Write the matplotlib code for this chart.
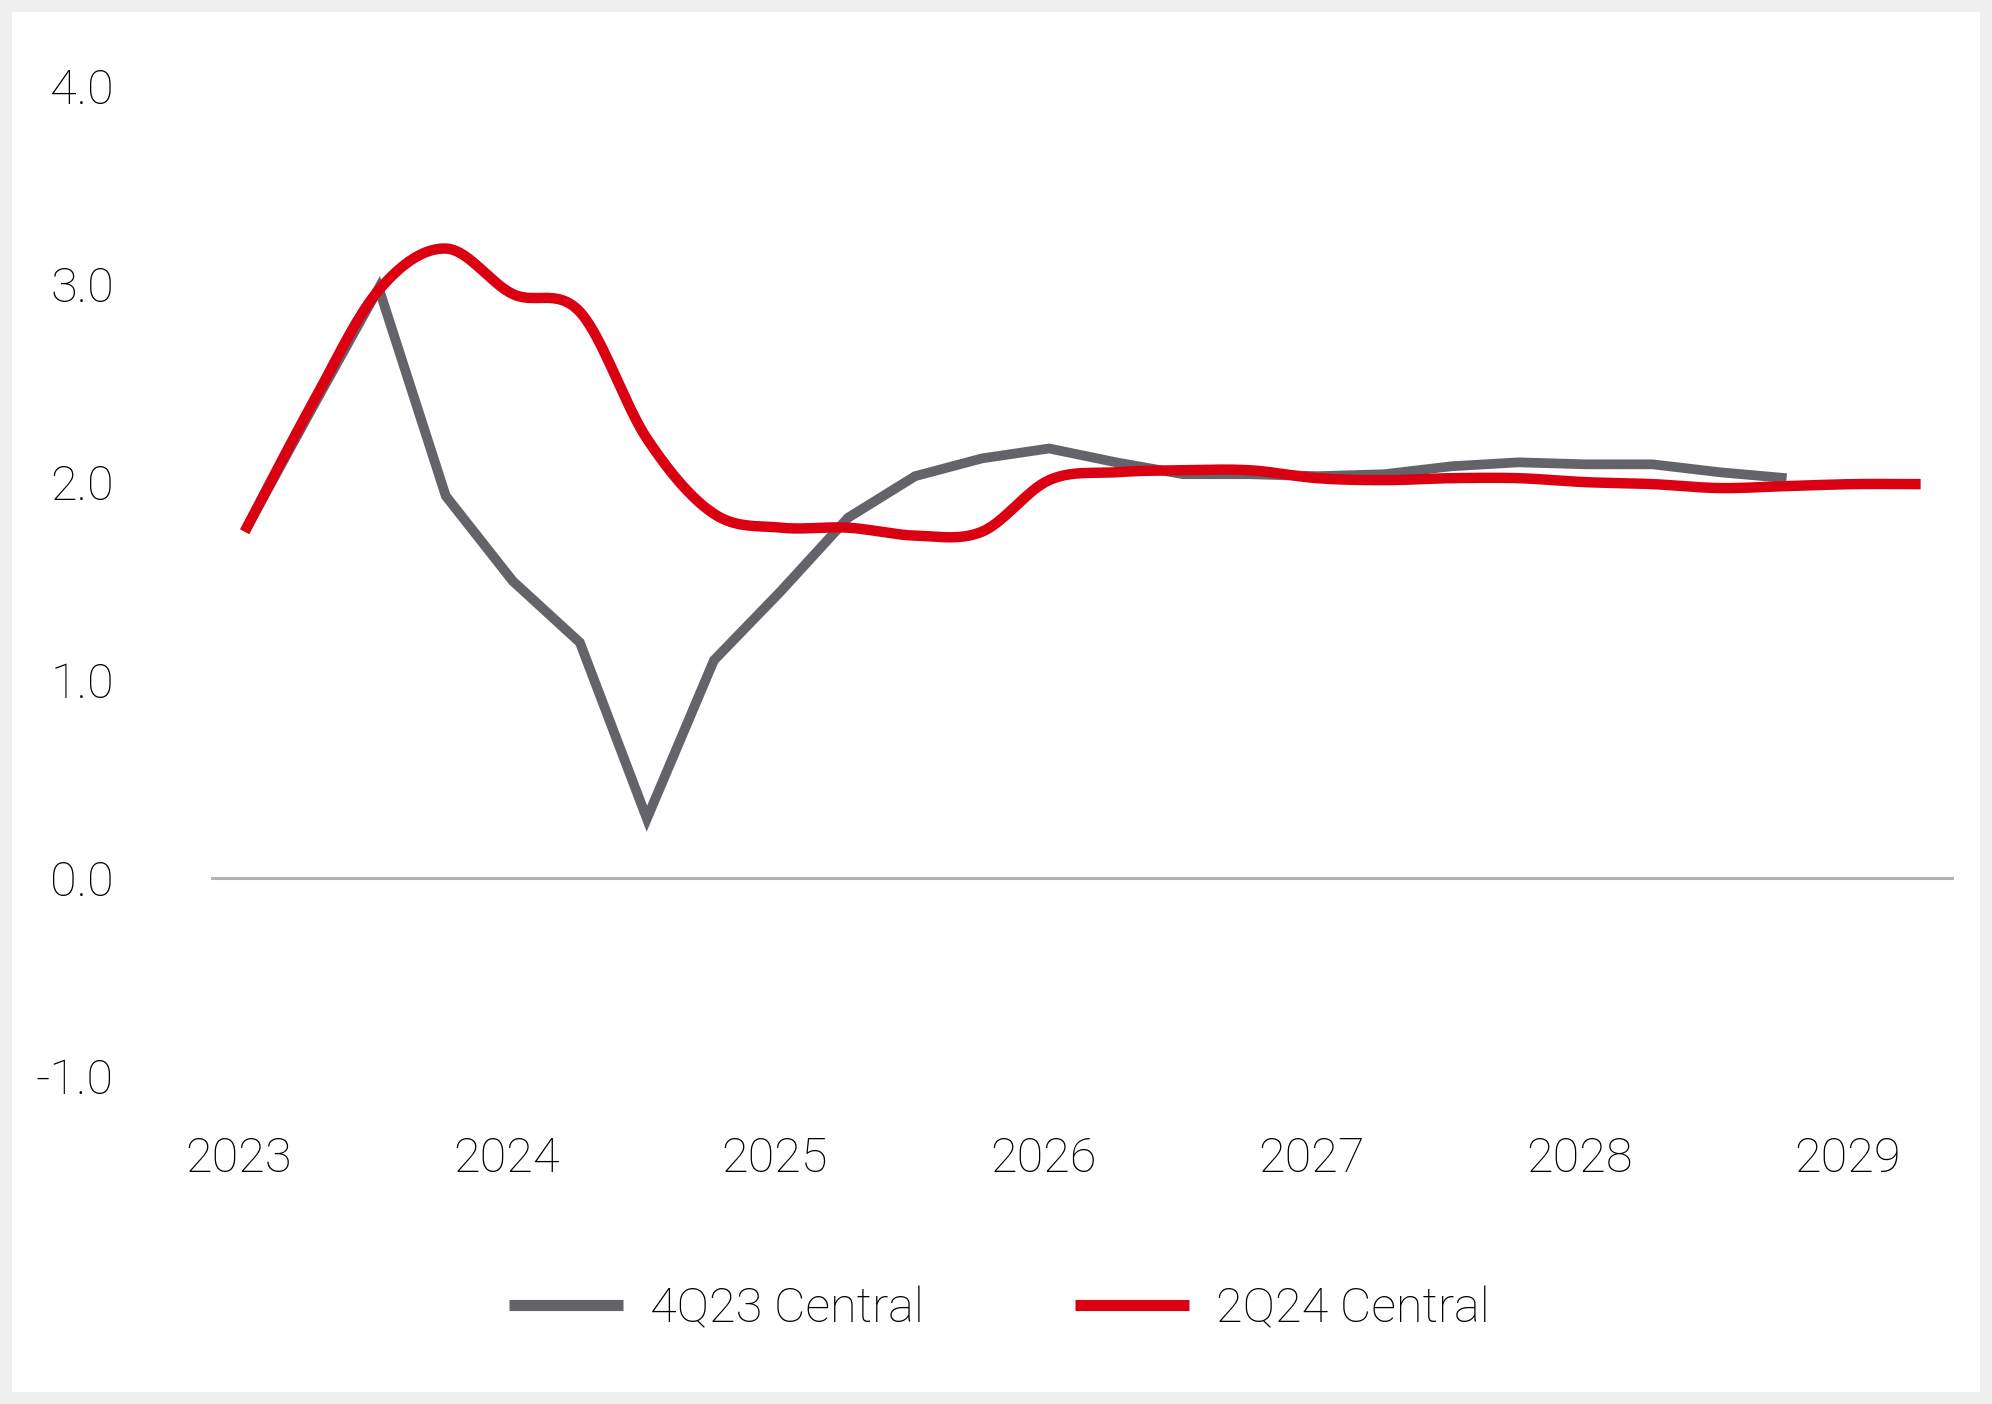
import numpy as np
import matplotlib
matplotlib.use('Agg')
import matplotlib.pyplot as plt
from matplotlib.patches import Rectangle
from matplotlib.transforms import ScaledTranslation

plt.rcParams['font.family'] = ['Roboto', 'Liberation Sans', 'DejaVu Sans']
plt.rcParams['font.weight'] = 'light'

# quarterly values, starting 1Q 2023
central_4q23 = [1.75, 2.37, 2.98, 1.93, 1.50, 1.19, 0.30, 1.10, 1.45, 1.82,
                2.03, 2.12, 2.17, 2.10, 2.04, 2.04, 2.03, 2.04, 2.08, 2.10,
                2.09, 2.09, 2.05, 2.02]
central_2q24 = [1.75, 2.39, 2.97, 3.18, 2.95, 2.86, 2.22, 1.84, 1.77, 1.77,
                1.73, 1.75, 2.01, 2.05, 2.06, 2.06, 2.02, 2.01, 2.02, 2.02,
                2.00, 1.99, 1.97, 1.98, 1.99, 1.99]
years = ['2023', '2024', '2025', '2026', '2027', '2028', '2029']
y_ticks = [-1.0, 0.0, 1.0, 2.0, 3.0, 4.0]

GREY = '#636369'
RED = '#da0011'
FS = 35


def smooth(y, n=20):
    # catmull-rom curve through the points (like excel's smoothed line)
    y = np.asarray(y, dtype=float)
    p = np.concatenate([[2 * y[0] - y[1]], y, [2 * y[-1] - y[-2]]])
    xs, ys = [], []
    t = np.linspace(0, 1, n, endpoint=False)
    for i in range(len(y) - 1):
        p0, p1, p2, p3 = p[i], p[i + 1], p[i + 2], p[i + 3]
        seg = 0.5 * ((2 * p1) + (-p0 + p2) * t + (2 * p0 - 5 * p1 + 4 * p2 - p3) * t ** 2
                     + (-p0 + 3 * p1 - 3 * p2 + p3) * t ** 3)
        xs.append(i + t)
        ys.append(seg)
    xs.append([len(y) - 1])
    ys.append([y[-1]])
    return np.concatenate(xs), np.concatenate(ys)


fig = plt.figure(figsize=(19.92, 14.04), dpi=100)
fig.patch.set_facecolor('#efefef')
fig.patches.append(Rectangle((12 / 1992, 12 / 1404), 1 - 24 / 1992, 1 - 24 / 1404,
                             transform=fig.transFigure, facecolor='white',
                             edgecolor='none', zorder=-1))

ax = fig.add_axes([0.106, 0.2336, 0.875, 0.705])
ax.set_facecolor('none')

ax.axhline(0, color='#b3b3b3', lw=2.2, zorder=1)
ax.plot(np.arange(len(central_4q23)), central_4q23, color=GREY, lw=7,
        solid_joinstyle='miter', solid_capstyle='butt', label='4Q23 Central', zorder=2)
sx, sy = smooth(central_2q24)
ax.plot(sx, sy, color=RED, lw=7.5, solid_capstyle='butt', label='2Q24 Central', zorder=3)

ax.set_xlim(-0.5, 25.5)
ax.set_ylim(-1.0, 4.0)
ax.set_xticks(np.arange(len(years)) * 4)
ax.set_xticklabels(years)
ax.set_yticks(y_ticks)
ax.set_yticklabels(['%.1f' % v for v in y_ticks])
ax.tick_params(axis='both', length=0, labelsize=FS, colors='black')
ax.tick_params(axis='y', pad=70)
ax.tick_params(axis='x', pad=43)
for s in ax.spines.values():
    s.set_visible(False)
shift = ScaledTranslation(-6 / 100, 0, fig.dpi_scale_trans)
for lab in ax.get_xticklabels():
    lab.set_transform(lab.get_transform() + shift)

leg = fig.legend(loc='center', bbox_to_anchor=(0.5016, 0.068), ncol=2, frameon=False,
                 fontsize=FS, handlelength=2.35, handletextpad=0.55, columnspacing=3.1)
for h in leg.get_lines():
    h.set_linewidth(8)

fig.savefig('out.png', dpi=100, facecolor=fig.get_facecolor())
